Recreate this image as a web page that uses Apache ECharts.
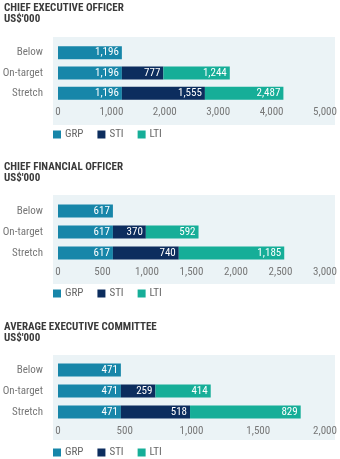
<!DOCTYPE html>
<html><head><meta charset="utf-8">
<script src="https://cdn.jsdelivr.net/npm/echarts@6/dist/echarts.min.js"></script>
<style>html,body{margin:0;padding:0;background:#fff}#c{width:340px;height:459px}</style>
</head><body><div id="c"></div>
<script>
const categories = ['Below', 'On-target', 'Stretch'];
const seriesNames = ['GRP', 'STI', 'LTI'];
const panelTitles = ['CHIEF EXECUTIVE OFFICER\nUS$\'000', 'CHIEF FINANCIAL OFFICER\nUS$\'000', 'AVERAGE EXECUTIVE COMMITTEE\nUS$\'000'];
// values as labelled in the reference
const ceoGRP = [1196, 1196, 1196];
const ceoSTI = [null, 777, 1555];
const ceoLTI = [null, 1244, 2487];
// bar lengths as drawn in the reference (Stretch LTI bar is drawn shorter than its label)
const ceoLTIDrawn = [null, 1244, 1470];
const cfoGRP = [617, 617, 617];
const cfoSTI = [null, 370, 740];
const cfoLTI = [null, 592, 1185];
const excoGRP = [471, 471, 471];
const excoSTI = [null, 259, 518];
const excoLTI = [null, 414, 829];
const axisMax = [5000, 3000, 2000];
const axisInterval = [1000, 500, 500];

const panelLabels = [[ceoGRP, ceoSTI, ceoLTI], [cfoGRP, cfoSTI, cfoLTI], [excoGRP, excoSTI, excoLTI]];
const panelDrawn = [[ceoGRP, ceoSTI, ceoLTIDrawn], [cfoGRP, cfoSTI, cfoLTI], [excoGRP, excoSTI, excoLTI]];
const colors = ['#1786a9', '#0c2d5e', '#16ae98'];
const FONT = '"Roboto Condensed", "Open Sans", sans-serif';

const L = [
  {titleTop: 2.5, bgTop: 37, bgBottom: 125, gridTop: 42.5, gridH: 61, legendTop: 129},
  {titleTop: 161.5, bgTop: 195, bgBottom: 284, gridTop: 200.5, gridH: 63, legendTop: 288},
  {titleTop: 321.5, bgTop: 355, bgBottom: 440, gridTop: 359.5, gridH: 63, legendTop: 447}
];
const fmt = v => Number(v).toLocaleString('en-US');

const option = {
  animation: false,
  textStyle: {fontFamily: FONT},
  title: [], legend: [], grid: [], xAxis: [], yAxis: [], series: [],
  graphic: []
};
L.forEach((p, i) => {
  option.graphic.push({type: 'rect', z: -10, shape: {x: 53, y: p.bgTop, width: 282, height: p.bgBottom - p.bgTop}, style: {fill: '#ebf3f6'}});
  option.title.push({text: panelTitles[i], left: 4, top: p.titleTop, padding: 0,
    textStyle: {fontFamily: FONT, fontSize: 11, fontWeight: 'bold', color: '#3a3a3a', lineHeight: 11}});
  option.legend.push({data: seriesNames, left: 53, top: p.legendTop, itemWidth: 8, itemHeight: 8, itemGap: 14,
    icon: 'rect', textStyle: {fontFamily: FONT, fontSize: 11, color: '#666', padding: [0, 0, 0, -1]}, padding: 0});
  option.grid.push({left: 58, right: 15, top: p.gridTop, height: p.gridH, containLabel: false, outerBoundsMode: 'none'});
  option.xAxis.push({type: 'value', gridIndex: i, min: 0, max: axisMax[i], interval: axisInterval[i],
    axisLine: {show: false}, axisTick: {show: false}, splitLine: {show: false},
    axisLabel: {formatter: fmt, color: '#777', fontFamily: FONT, fontSize: 11, margin: 3}});
  option.yAxis.push({type: 'category', gridIndex: i, data: categories, inverse: true,
    axisLine: {show: false}, axisTick: {show: false},
    axisLabel: {color: '#777', fontFamily: FONT, fontSize: 11, margin: 15}});
  seriesNames.forEach((n, k) => {
    const labels = panelLabels[i][k];
    option.series.push({name: n, type: 'bar', stack: 's' + i, xAxisIndex: i, yAxisIndex: i,
      data: panelDrawn[i][k], barWidth: 13, itemStyle: {color: colors[k]},
      label: {show: true, position: 'insideRight', color: '#fff', fontFamily: FONT, fontSize: 11, distance: 3,
        formatter: q => fmt(labels[q.dataIndex])}});
  });
});
const chart = echarts.init(document.getElementById('c'), null, {renderer: 'canvas'});
chart.setOption(option);
</script></body></html>
